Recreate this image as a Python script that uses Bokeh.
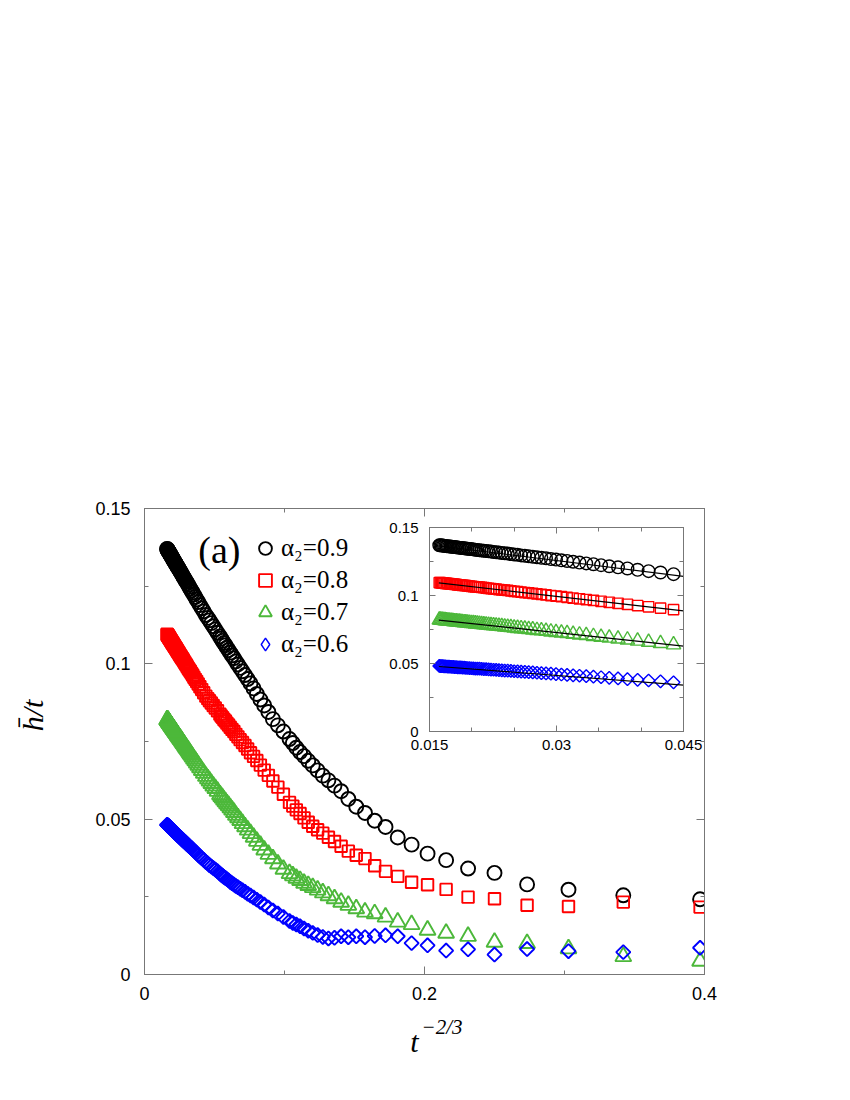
import numpy as np
from bokeh.plotting import figure
from bokeh.models import (Range1d, FixedTicker, CustomJSTickFormatter, LinearAxis,
                          Label, Legend, LegendItem)
from bokeh.embed import file_html
from bokeh.resources import INLINE

# ---------------- data ----------------
t_vals = [4, 5, 6, 7, 8, 9, 10, 11, 12, 13, 14, 15, 16, 17, 18, 19, 20, 21, 22, 23, 24, 25, 26, 27, 28, 29, 30,
          32, 34, 36, 38, 40, 42, 44, 46, 48, 50, 52, 54, 56, 58, 60, 62, 64, 66, 68, 70, 72, 74, 76, 78, 80,
          84, 88, 92, 96, 100, 104,
          109, 115, 121, 127, 133, 139, 145, 151, 157, 163, 169, 175, 181, 187, 193, 199, 205, 211, 217, 223,
          229, 235, 241, 247, 253, 259, 265, 271, 277, 283, 289, 295, 301, 307, 313, 319, 325, 331, 337, 343,
          349, 355, 361, 367, 373, 379, 385, 391, 397, 403, 409, 415, 421, 427, 433, 439, 445, 451, 457, 463,
          469, 475, 481, 487]

h_a09 = [.0242, .0255, .0273, .0290, .0327, .0341, .0368, .0389, .0418, .0441, .0475, .0495, .0520, .0540,
         .0565, .0590, .0608, .0625, .0640, .0657, .0673, .0688, .0703, .0716, .0730, .0745, .0758,
         .0782, .0802, .0822, .0845, .0866, .0885, .0903, .0921, .0937, .0951, .0964, .0976, .0987, .0998,
         .1008, .1018, .1027, .1036, .1044, .1052, .1060, .1067, .1074, .1081, .1088,
         .1100, .1111, .1121, .1131, .1140, .1148,
         .1157, .1169, .1179, .1189, .1199, .1207, .1215, .1223, .1230, .1236, .1242, .1248, .1254, .1259,
         .1264, .1268, .1273, .1277, .1281, .1285, .1289, .1292, .1295, .1299, .1302, .1305, .1308, .1310,
         .1313, .1316, .1318, .1320, .1323, .1325, .1327, .1329, .1331, .1333, .1335, .1337, .1339, .1341,
         .1342, .1344, .1346, .1347, .1349, .1350, .1352, .1353, .1355, .1356, .1357, .1358, .1360, .1361,
         .1362, .1363, .1364, .1366, .1367, .1368, .1369, .1370]

h_a08 = [.0217, .0233, .0219, .0223, .0244, .0249, .0274, .0289, .0297, .0316, .0332, .0350, .0373, .0384,
         .0397, .0413, .0428, .0442, .0455, .0466, .0477, .0490, .0504, .0518, .0530, .0542, .0554,
         .0580, .0603, .0623, .0641, .0658, .0674, .0689, .0702, .0714, .0726, .0737, .0747, .0756, .0765,
         .0773, .0782, .0789, .0796, .0803, .0809, .0816, .0821, .0827, .0832, .0838,
         .0849, .0858, .0866, .0874, .0881, .0888,
         .0896, .0907, .0917, .0926, .0935, .0943, .0950, .0957, .0964, .0970, .0976, .0981, .0986, .0991,
         .0996, .1000, .1004, .1008, .1012, .1016, .1019, .1022, .1025, .1028, .1031, .1034, .1037, .1039,
         .1042, .1044, .1047, .1049, .1051, .1053, .1055, .1057, .1059, .1061, .1063, .1064, .1066, .1068,
         .1069, .1071, .1072, .1074, .1075, .1077, .1078, .1079, .1081, .1082, .1083, .1084, .1086, .1087,
         .1088, .1089, .1090, .1091, .1092, .1093, .1094, .1095]

h_a07 = [.0043, .0058, .0083, .0100, .0104, .0123, .0133, .0143, .0161, .0169, .0185, .0196, .0201, .0212,
         .0223, .0233, .0244, .0254, .0263, .0272, .0280, .0287, .0294, .0303, .0310, .0318, .0325,
         .0339, .0356, .0373, .0387, .0401, .0416, .0429, .0442, .0454, .0465, .0476, .0486, .0496, .0505,
         .0513, .0522, .0530, .0537, .0544, .0550, .0556, .0562, .0568, .0573, .0579,
         .0590, .0599, .0607, .0615, .0623, .0630,
         .0638, .0648, .0657, .0666, .0674, .0681, .0688, .0694, .0700, .0706, .0711, .0716, .0721, .0725,
         .0729, .0733, .0737, .0741, .0744, .0748, .0751, .0754, .0757, .0759, .0762, .0765, .0767, .0769,
         .0772, .0774, .0776, .0778, .0780, .0782, .0784, .0786, .0787, .0789, .0791, .0792, .0794, .0795,
         .0797, .0798, .0800, .0801, .0802, .0804, .0805, .0806, .0807, .0808, .0810, .0811, .0812, .0813,
         .0814, .0815, .0816, .0817, .0818, .0819, .0820, .0820]

h_a06 = [.0086, .0072, .0075, .0082, .0064, .0081, .0077, .0094, .0101, .0123, .0126, .0124, .0120, .0123,
         .0120, .0123, .0118, .0116, .0121, .0127, .0134, .0141, .0148, .0155, .0161, .0166, .0172,
         .0185, .0196, .0206, .0216, .0225, .0233, .0241, .0248, .0254, .0260, .0266, .0271, .0276, .0281,
         .0285, .0290, .0294, .0298, .0303, .0307, .0311, .0314, .0318, .0321, .0325,
         .0332, .0338, .0343, .0348, .0352, .0357,
         .0362, .0369, .0375, .0380, .0385, .0390, .0395, .0399, .0403, .0407, .0410, .0413, .0416, .0419,
         .0422, .0425, .0427, .0429, .0432, .0434, .0436, .0438, .0440, .0442, .0443, .0445, .0447, .0448,
         .0450, .0451, .0453, .0454, .0455, .0457, .0458, .0459, .0460, .0462, .0462, .0463, .0464, .0465,
         .0466, .0467, .0468, .0469, .0470, .0471, .0471, .0472, .0473, .0474, .0475, .0475, .0476, .0477,
         .0477, .0478, .0479, .0479, .0480, .0480, .0481, .0482]

# linear fits shown in the inset (end points)
fit_x = [0.0161, 0.045]
fit_a09 = [0.1365, 0.1140]
fit_a08 = [0.1093, 0.0887]
fit_a07 = [0.0819, 0.0628]
fit_a06 = [0.0478, 0.0341]

labels = ["α₂=0.9", "α₂=0.8", "α₂=0.7", "α₂=0.6"]
colors = ["#000000", "#ff0000", "#4cb83a", "#0000ff"]

main_x_ticks = [0, 0.2, 0.4]
main_x_minor = [0.1, 0.3]
main_y_ticks = [0, 0.05, 0.1, 0.15]
main_y_minor = [0.025, 0.075, 0.125]
ins_x_ticks = [0.015, 0.03, 0.045]
ins_x_minor = [0.02, 0.025, 0.035, 0.04]
ins_y_ticks = [0, 0.05, 0.1, 0.15]
ins_y_minor = [0.025, 0.075, 0.125]

# ---------------- helpers ----------------
x_vals = np.array(t_vals, dtype=float) ** (-2.0 / 3.0)
series = [np.array(h_a09), np.array(h_a08), np.array(h_a07), np.array(h_a06)]
fits = [fit_a09, fit_a08, fit_a07, fit_a06]

FRAME = "#777777"
SANS = "Liberation Sans"
SERIF = "Liberation Serif"
fmt = CustomJSTickFormatter(code="return tick.toString();")


def style_axis(ax, ticks, minor, major_in, minor_in, font_size, standoff, show_labels=True):
    ax.ticker = FixedTicker(ticks=ticks, minor_ticks=minor)
    ax.formatter = fmt
    ax.axis_line_color = FRAME
    ax.axis_line_width = 1
    ax.major_tick_in = major_in
    ax.major_tick_out = 0
    ax.minor_tick_in = minor_in
    ax.minor_tick_out = 0
    ax.major_tick_line_color = FRAME
    ax.minor_tick_line_color = FRAME
    ax.major_label_text_font = SANS
    if show_labels:
        ax.major_label_text_color = "#000000"
        ax.major_label_text_font_size = font_size
        ax.major_label_standoff = standoff
    else:
        ax.major_label_text_color = None
        ax.major_label_text_alpha = 0
        ax.major_label_text_font_size = "1px"
        ax.major_label_standoff = 0


def markers(fig, xs, ys, k, scale, lw):
    c = colors[k]
    common = dict(fill_color=None, line_color=c, line_width=lw)
    if k == 0:
        return fig.scatter(xs, ys, marker="circle", size=14 * scale, **common)
    if k == 1:
        return fig.scatter(xs, ys, marker="square", size=11.5 * scale, **common)
    if k == 2:
        return fig.scatter(xs, ys, marker="triangle", size=16 * scale, **common)
    return fig.scatter(xs, ys, marker="square", angle=np.pi / 4, size=10 * scale, **common)


def text_box(left, top, w, h):
    """transparent box, positioned on the page, that carries free texts"""
    b = figure(frame_width=w, frame_height=h, x_range=Range1d(0, w), y_range=Range1d(h, 0),
               min_border=0, x_axis_type=None, y_axis_type=None,
               output_backend="svg", toolbar_location=None)
    b.grid.visible = False
    b.outline_line_color = None
    b.background_fill_alpha = 0
    b.border_fill_alpha = 0
    b.styles = {"position": "absolute", "left": f"{left}px", "top": f"{top}px"}
    return b


# ---------------- main figure ----------------
p = figure(frame_width=560, frame_height=466,
           x_range=Range1d(0, 0.4), y_range=Range1d(0, 0.15),
           min_border_left=144, min_border_right=40, min_border_top=508, min_border_bottom=82,
           output_backend="svg", toolbar_location=None)
p.grid.visible = False
p.outline_line_color = FRAME
p.background_fill_color = "white"
p.border_fill_color = "white"

style_axis(p.xaxis[0], main_x_ticks, main_x_minor, 8, 4, "18px", 12)
style_axis(p.yaxis[0], main_y_ticks, main_y_minor, 8, 4, "18px", 14)
top_ax = LinearAxis()
style_axis(top_ax, main_x_ticks, main_x_minor, 8, 4, "18px", 0, show_labels=False)
p.add_layout(top_ax, "above")
right_ax = LinearAxis()
style_axis(right_ax, main_y_ticks, main_y_minor, 8, 4, "18px", 0, show_labels=False)
p.add_layout(right_ax, "right")

renderers = []
for k in range(4):
    renderers.append(markers(p, x_vals, series[k], k, 1.0, 1.9))

# legend key of the last series is a diamond (a legend draws the rotated-square data glyph
# unrotated); this key renderer holds a single NaN, so nothing of it appears in the plot
diamond_key = p.scatter(x=[float("nan")], y=[float("nan")], marker="diamond", size=14,
                        fill_color=None, line_color=colors[3], line_width=1.4)
legend_renderers = [renderers[0], renderers[1], renderers[2], diamond_key]

legend = Legend(items=[LegendItem(label=labels[k], renderers=[legend_renderers[k]]) for k in range(4)],
                location=(105, 314), orientation="vertical",
                label_text_font=SERIF, label_text_font_size="25px", label_text_color="#000000",
                glyph_width=32, glyph_height=32, label_height=32, label_standoff=0,
                spacing=-1, padding=0, margin=0,
                background_fill_alpha=0, border_line_alpha=0)
p.add_layout(legend)

p.add_layout(Label(x=0.0535, y=0.1368, text="(a)", text_font=SERIF, text_font_size="38px",
                   text_color="#000000", text_align="center", text_baseline="middle"))

# ---------------- inset ----------------
inset = figure(frame_width=254, frame_height=204,
               x_range=Range1d(0.015, 0.045), y_range=Range1d(0, 0.15),
               min_border_left=52, min_border_right=26, min_border_top=14, min_border_bottom=30,
               output_backend="svg", toolbar_location=None)
inset.grid.visible = False
inset.outline_line_color = FRAME
inset.background_fill_color = "white"
inset.border_fill_alpha = 0
style_axis(inset.xaxis[0], ins_x_ticks, ins_x_minor, 6, 4, "15px", 8)
style_axis(inset.yaxis[0], ins_y_ticks, ins_y_minor, 6, 4, "15px", 11)
itop = LinearAxis()
style_axis(itop, ins_x_ticks, ins_x_minor, 6, 4, "15px", 0, show_labels=False)
inset.add_layout(itop, "above")
iright = LinearAxis()
style_axis(iright, ins_y_ticks, ins_y_minor, 6, 4, "15px", 0, show_labels=False)
inset.add_layout(iright, "right")

mask = x_vals <= 0.045
for k in range(4):
    markers(inset, x_vals[mask], series[k][mask], k, 0.9, 1.4)
for k in range(4):
    inset.line(fit_x, fits[k], line_color="black", line_width=1.2)

inset.styles = {"position": "absolute", "left": "377px", "top": "513px"}

# ---------------- axis titles ----------------
ybox = text_box(8, 675, 50, 80)
ybox.add_layout(Label(x=24, y=40, text="h̄/t", angle=np.pi / 2, text_font=SERIF,
                      text_font_style="italic", text_font_size="30px", text_color="#000000",
                      text_align="center", text_baseline="middle"))

xbox = text_box(390, 1005, 100, 55)
xbox.add_layout(Label(x=24, y=36, text="t", text_font=SERIF, text_font_style="italic",
                      text_font_size="30px", text_color="#000000",
                      text_align="center", text_baseline="middle"))
xbox.add_layout(Label(x=31, y=21, text="−2/3", text_font=SERIF, text_font_style="italic",
                      text_font_size="21px", text_color="#000000",
                      text_align="left", text_baseline="middle"))

open("out.html", "w").write(file_html([p, inset, ybox, xbox], INLINE))
